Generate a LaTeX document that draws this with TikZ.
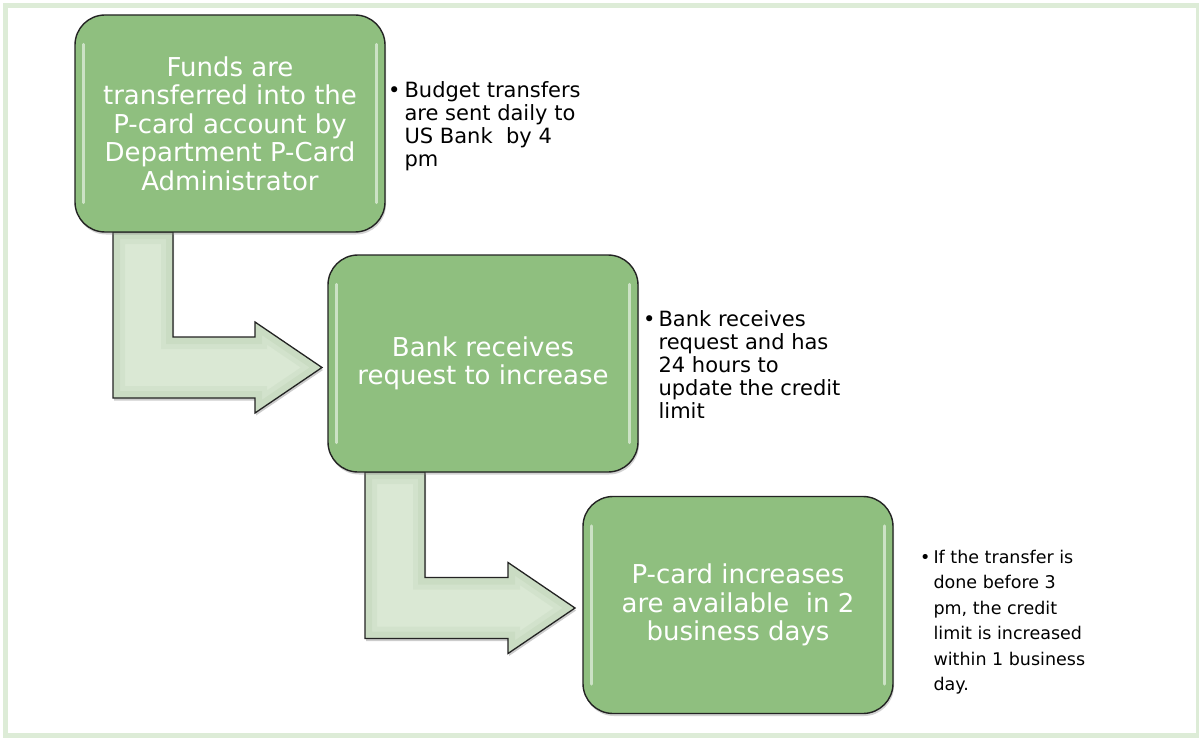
\documentclass[tikz,border=0pt]{standalone}
\usepackage{fontspec}
\setmainfont{DejaVu Sans}
\usetikzlibrary{calc,shadows}
\definecolor{boxgreen}{RGB}{143,191,127}
\definecolor{arrowgreen}{RGB}{218,232,212}
\definecolor{arrowedge}{RGB}{198,217,191}
\definecolor{framegreen}{RGB}{221,236,215}
\definecolor{outline}{RGB}{35,35,35}
\tikzset{
  stepbox/.style={rectangle, rounded corners=30pt, minimum width=310pt,
    minimum height=217pt, fill=boxgreen, draw=outline, line width=1.4pt,
    text=white, align=center, inner sep=0pt,
    font=\fontsize{26}{28.5}\selectfont,
    drop shadow={opacity=0.35, shadow xshift=1pt, shadow yshift=-2.5pt}},
  note/.style={anchor=north west, inner sep=0pt, text=black},
  gloss/.style={white, line width=3pt, opacity=0.55, line cap=round},
}
\newcommand\bentpath[3]{%
  \path[#1] let \p1=(#2), \p2=(#3) in
    (\x1,\y1) -- (\x1,\y2-30.5pt) -- (\x2-67pt,\y2-30.5pt) -- (\x2-67pt,\y2-45.5pt)
    -- (\x2,\y2) -- (\x2-67pt,\y2+45.5pt) -- (\x2-67pt,\y2+30.5pt)
    -- (\x1+60pt,\y2+30.5pt) -- (\x1+60pt,\y1) -- cycle;}
\newcommand\bentarrow[2]{%
  \bentpath{fill=black, opacity=0.2, transform canvas={shift={(1pt,-2.5pt)}}}{#1}{#2}
  \begin{scope}
    \bentpath{clip}{#1}{#2}
    \bentpath{fill=arrowgreen}{#1}{#2}
    \bentpath{draw=arrowedge, line width=14pt}{#1}{#2}
    \bentpath{draw=arrowedge!60!arrowgreen, line width=24pt, opacity=0.6}{#1}{#2}
  \end{scope}
  \bentpath{draw=outline, line width=1.3pt, line join=miter}{#1}{#2}}
\begin{document}
\begin{tikzpicture}[x=1pt, y=-1pt]
\useasboundingbox (0,0) rectangle (1199,738);
\fill[white] (0,0) rectangle (1199,738);
\draw[framegreen, line width=5pt] (5.5,5.5) rectangle (1198.5,735.5);

% box centres
\path (230,123.5) coordinate (c1) (483,363.5) coordinate (c2) (738,605) coordinate (c3);

% arrows first (behind boxes)
\path (c1) ++(-155,108.5) coordinate (b1sw);
\path (c2) ++(-155,108.5) coordinate (b2sw);
\path (c2) ++(-155,0) coordinate (b2w);
\path (c3) ++(-155,0) coordinate (b3w);
\coordinate (s1) at ($(b1sw)+(38,0)$);
\coordinate (t1) at ($(b2w)+(-6,4)$);
\coordinate (s2) at ($(b2sw)+(37,0)$);
\coordinate (t2) at ($(b3w)+(-8,3)$);
\bentarrow{s1}{t1}
\bentarrow{s2}{t2}

\node[stepbox] (b1) at (c1) {Funds are\\transferred into the\\P-card account by\\Department P-Card\\Administrator};
\node[stepbox] (b2) at (c2) {Bank receives\\request to increase};
\node[stepbox] (b3) at (c3) {P-card increases\\are available\ \ in 2\\business days};

\foreach \b in {b1,b2,b3}{
  \draw[gloss] ($(\b.north west)+(9,30)$) -- ($(\b.south west)+(9,-30)$);
  \draw[gloss] ($(\b.north east)+(-9,30)$) -- ($(\b.south east)+(-9,-30)$);
}

\node[note, font=\fontsize{21}{23}\selectfont] (n1) at (388,80.9)
  {\begin{tabular}{@{}l@{\hspace{4pt}}l@{}}•&Budget transfers\\&are sent daily to\\&US Bank\ \ by 4\\&pm\end{tabular}};
\node[note, font=\fontsize{21}{23}\selectfont] (n2) at (643,309.9)
  {\begin{tabular}{@{}l@{\hspace{3pt}}l@{}}•&Bank receives\\&request and has\\&24 hours to\\&update the credit\\&limit\end{tabular}};
\node[note, font=\fontsize{17.5}{25.5}\selectfont] (n3) at (920,545.2)
  {\begin{tabular}{@{}l@{\hspace{3pt}}l@{}}•&If the transfer is\\&done before 3\\&pm, the credit\\&limit is increased\\&within 1 business\\&day.\end{tabular}};
\end{tikzpicture}
\end{document}
